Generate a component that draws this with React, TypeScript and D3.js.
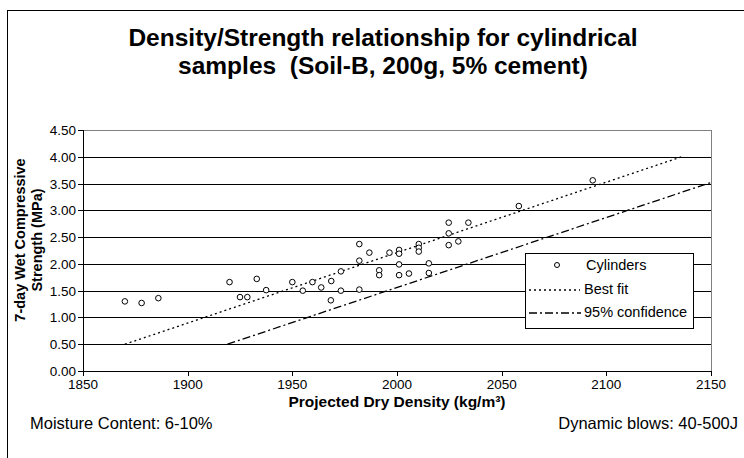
import React, { useEffect } from "react";
import * as d3 from "d3";

const densities = [
  1870, 1878, 1886, 1920, 1925, 1928.5, 1933, 1937.5, 1950, 1955, 1959.6, 1963.8,
  1968.6, 1968.4, 1973.2, 1973.2, 1982, 1982, 1982, 1986.8, 1991.5, 1991.5, 1996.4,
  2001, 2001, 2001, 2001, 2005.7, 2010.4, 2010.4, 2010.4, 2015.2, 2015.2, 2024.7,
  2024.7, 2024.7, 2029.3, 2034.1, 2058.2, 2093.5,
];
const strengths = [
  1.3, 1.27, 1.36, 1.66, 1.38, 1.38, 1.72, 1.51, 1.66, 1.5, 1.66, 1.56, 1.68, 1.32,
  1.86, 1.5, 2.37, 2.06, 1.52, 2.21, 1.88, 1.79, 2.21, 2.26, 2.19, 1.99, 1.79, 1.82,
  2.37, 2.3, 2.23, 2.01, 1.83, 2.77, 2.57, 2.35, 2.42, 2.77, 3.08, 3.56,
];
const bestFitX = [1870, 2136];
const bestFitY = [0.5, 4.0];
const confX = [1919, 2150];
const confY = [0.5, 3.52];

const xTicks = [1850, 1900, 1950, 2000, 2050, 2100, 2150];
const yTicks = [0, 0.5, 1, 1.5, 2, 2.5, 3, 3.5, 4, 4.5];

const titleLines = [
  "Density/Strength relationship for cylindrical",
  "samples  (Soil-B, 200g, 5% cement)",
];
const yTitleLines = ["7-day Wet Compressive", "Strength (MPa)"];
const xTitle = "Projected Dry Density (kg/m³)";
const noteLeft = "Moisture Content: 6-10%";
const noteRight = "Dynamic blows: 40-500J";
const legendLabels = ["Cylinders", "Best fit", "95% confidence"];

const FONT = "'Liberation Sans', Arial, sans-serif";

export default function App() {
  useEffect(() => {
    document.body.style.margin = "0";
  }, []);

  const W = 744;
  const H = 458;
  const x = d3.scaleLinear().domain([1850, 2150]).range([83, 711]);
  const y = d3.scaleLinear().domain([0, 4.5]).range([371, 130]);
  const line = d3
    .line<[number, number]>()
    .x((d) => x(d[0]))
    .y((d) => y(d[1]));

  const bestPts: [number, number][] = bestFitX.map((v, i) => [v, bestFitY[i]]);
  const confPts: [number, number][] = confX.map((v, i) => [v, confY[i]]);

  const x0 = x.range()[0];
  const x1 = x.range()[1];
  const y0 = y.range()[0];
  const y1 = y.range()[1];

  const lg = { x: 525, y: 253, w: 168, h: 75 };

  return (
    <svg
      width={W}
      height={H}
      style={{ display: "block", position: "absolute", left: 0, top: 0, background: "#fff" }}
      fontFamily={FONT}
    >
      <rect x={7.5} y={10.5} width={800} height={500} fill="#fff" stroke="#000" strokeWidth={1} />

      {titleLines.map((t, i) => (
        <text
          key={i}
          x={383}
          y={46 + i * 28}
          textAnchor="middle"
          fontWeight="bold"
          fontSize={24.5}
          fill="#000"
          style={{ whiteSpace: "pre" }}
        >
          {t}
        </text>
      ))}

      {/* gridlines */}
      {yTicks.slice(1, -1).map((t) => (
        <line
          key={t}
          x1={x0}
          x2={x1}
          y1={Math.round(y(t)) + 0.5}
          y2={Math.round(y(t)) + 0.5}
          stroke="#000"
          strokeWidth={1}
        />
      ))}
      {/* plot border */}
      <rect
        x={x0 + 0.5}
        y={Math.round(y1) + 0.5}
        width={x1 - x0}
        height={Math.round(y0) - Math.round(y1)}
        fill="none"
        stroke="#808080"
        strokeWidth={1}
      />
      {/* axes */}
      <line x1={x0 + 0.5} x2={x0 + 0.5} y1={Math.round(y1)} y2={Math.round(y0) + 0.5} stroke="#000" />
      <line x1={x0} x2={x1 + 1} y1={Math.round(y0) + 0.5} y2={Math.round(y0) + 0.5} stroke="#000" />

      {yTicks.map((t) => (
        <g key={t}>
          <line
            x1={x0 - 5}
            x2={x0}
            y1={Math.round(y(t)) + 0.5}
            y2={Math.round(y(t)) + 0.5}
            stroke="#000"
          />
          <text x={x0 - 7} y={y(t) + 5} textAnchor="end" fontSize={13.5} fill="#000">
            {t.toFixed(2)}
          </text>
        </g>
      ))}
      {xTicks.map((t) => (
        <g key={t}>
          <line
            x1={Math.round(x(t)) + 0.5}
            x2={Math.round(x(t)) + 0.5}
            y1={y0}
            y2={y0 + 5}
            stroke="#000"
          />
          <text x={x(t)} y={y0 + 18} textAnchor="middle" fontSize={13.5} fill="#000">
            {t}
          </text>
        </g>
      ))}

      {/* lines */}
      <path d={line(bestPts) || ""} fill="none" stroke="#000" strokeWidth={1.3} strokeDasharray="2,3" />
      <path d={line(confPts) || ""} fill="none" stroke="#000" strokeWidth={1.3} strokeDasharray="8,3,2,3" />

      {/* points */}
      {densities.map((d, i) => (
        <circle key={i} cx={x(d)} cy={y(strengths[i])} r={2.8} fill="#fff" stroke="#000" strokeWidth={1} />
      ))}

      {/* axis titles */}
      <g transform={`translate(0, 240) rotate(-90)`}>
        {yTitleLines.map((t, i) => (
          <text key={i} x={0} y={25 + i * 17} textAnchor="middle" fontWeight="bold" fontSize={14.5} fill="#000">
            {t}
          </text>
        ))}
      </g>
      <text x={(x0 + x1) / 2} y={406.5} textAnchor="middle" fontWeight="bold" fontSize={15.5} fill="#000">
        {xTitle}
      </text>

      <text x={30} y={429} fontSize={16.5} fill="#000">
        {noteLeft}
      </text>
      <text x={738} y={429} textAnchor="end" fontSize={16.5} fill="#000">
        {noteRight}
      </text>

      {/* legend */}
      <rect x={lg.x + 0.5} y={lg.y + 0.5} width={lg.w} height={lg.h} fill="#fff" stroke="#000" />
      <circle cx={557} cy={lg.y + 12} r={2.5} fill="#fff" stroke="#000" />
      <line x1={529} x2={580} y1={lg.y + 37} y2={lg.y + 37} stroke="#000" strokeWidth={1.3} strokeDasharray="2,3" />
      <line x1={529} x2={581} y1={lg.y + 60} y2={lg.y + 60} stroke="#000" strokeWidth={1.3} strokeDasharray="8,3,2,3" />
      {legendLabels.map((t, i) => (
        <text key={i} x={i === 0 ? 586 : 584} y={lg.y + 17 + i * 23.5} fontSize={14.5} fill="#000">
          {t}
        </text>
      ))}
    </svg>
  );
}
